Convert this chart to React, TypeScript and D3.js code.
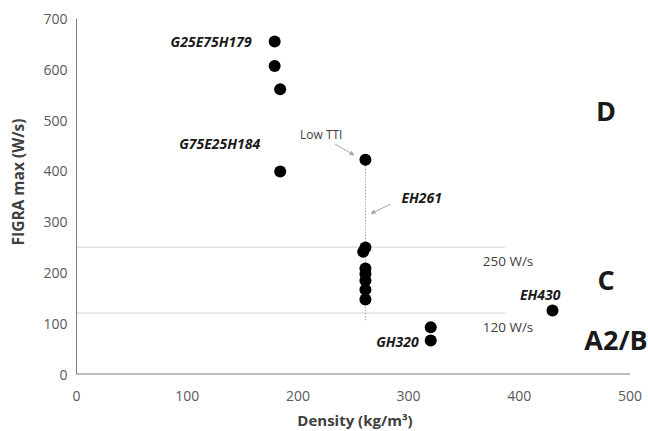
import React from "react";
import * as d3 from "d3";

// Measured samples: bulk density vs. peak FIGRA
const densities = [179, 179, 184, 184, 261, 261, 259, 261, 261, 261, 261, 261, 320, 320, 430];
const figraMax = [655, 607, 561, 399, 422, 249, 241, 208, 197, 184, 166, 147, 92, 66, 125];

// Axis ticks
const xTicks = [0, 100, 200, 300, 400, 500];
const yTicks = [0, 100, 200, 300, 400, 500, 600, 700];

// Classification thresholds (W/s) and their labels
const thresholds = [250, 120];
const thresholdLabels = ["250 W/s", "120 W/s"];

// Sample names and the point each one belongs to
const sampleNames = ["G25E75H179", "G75E25H184", "EH261", "GH320", "EH430"];
const sampleIndex = [0, 3, 4, 13, 14];

// Fire classes, placed at these FIGRA levels
const classNames = ["D", "C", "A2/B"];
const classLevels = [520, 187, 67];

const W = 648;
const H = 431;
const FONT = "'Open Sans', 'DejaVu Sans', sans-serif";

export default function App() {
  const x = d3.scaleLinear().domain([0, 500]).range([76.5, 630]);
  const y = d3.scaleLinear().domain([0, 700]).range([374, 18.7]);

  const tickColor = "#595959";
  const lineEnd = x(387);

  // label offsets (px) relative to their point
  const nameOffsets: [number, string, number, number][] = [
    [0, "end", -23, 0],
    [1, "end", -20, -28],
    [2, "start", 36, 38],
    [3, "end", -12, 1],
    [4, "end", 8, -16],
  ];

  const eh = sampleIndex[2];
  const ehX = x(densities[eh]);

  return (
    <svg
      width={W}
      height={H}
      style={{ position: "absolute", left: 0, top: 0, background: "#fff" }}
      fontFamily={FONT}
    >
      <defs>
        <marker id="arrowHead" viewBox="0 0 10 10" refX="9" refY="5" markerWidth="5" markerHeight="5" orient="auto">
          <path d="M0,0 L10,5 L0,10 z" fill="#a6a6a6" />
        </marker>
      </defs>

      {/* threshold lines */}
      {thresholds.map((t, i) => (
        <g key={t}>
          <line x1={x(0)} x2={lineEnd} y1={y(t)} y2={y(t)} stroke="#d0d0d0" strokeWidth={1} />
          <text
            x={x(367)}
            y={y(t) + 14}
            fontSize={13.5}
            fill="#404040"
            dominantBaseline="central"
          >
            {thresholdLabels[i]}
          </text>
        </g>
      ))}

      {/* dotted guide below the EH261 series */}
      <line
        x1={ehX}
        x2={ehX}
        y1={y(figraMax[eh])}
        y2={y(106)}
        stroke="#a6a6a6"
        strokeWidth={1}
        strokeDasharray="1.5,1.5"
      />

      {/* axes */}
      <line x1={x(0)} x2={x(0)} y1={y(0)} y2={y(700)} stroke="#7f7f7f" strokeWidth={1} />
      <line x1={x(0)} x2={x(500)} y1={y(0)} y2={y(0)} stroke="#7f7f7f" strokeWidth={1} />

      {yTicks.map((t) => (
        <text key={t} x={x(0) - 9} y={y(t)} fontSize={14} fill={tickColor} textAnchor="end" dominantBaseline="central">
          {t}
        </text>
      ))}
      {xTicks.map((t) => (
        <text key={t} x={x(t)} y={395} fontSize={14} fill={tickColor} textAnchor="middle" dominantBaseline="central">
          {t}
        </text>
      ))}

      <text
        transform={`translate(18,182) rotate(-90)`}
        fontSize={15.5}
        fontWeight="bold"
        fill="#404040"
        textAnchor="middle"
        dominantBaseline="central"
      >
        FIGRA max (W/s)
      </text>
      <text x={355} y={420} fontSize={15} fontWeight="bold" fill="#404040" textAnchor="middle" dominantBaseline="central">
        Density (kg/m³)
      </text>

      {/* points */}
      {densities.map((d, i) => (
        <circle key={i} cx={x(d)} cy={y(figraMax[i])} r={6} fill="#000" />
      ))}

      {/* sample names */}
      {nameOffsets.map(([k, anchor, dx, dy]) => {
        const idx = sampleIndex[k];
        return (
          <text
            key={k}
            x={x(densities[idx]) + dx}
            y={y(figraMax[idx]) + dy}
            fontSize={14}
            fontWeight="bold"
            fontStyle="italic"
            fill="#1a1a1a"
            textAnchor={anchor}
            dominantBaseline="central"
          >
            {sampleNames[k]}
          </text>
        );
      })}

      {/* annotations */}
      <text x={300} y={134} fontSize={12} fill="#404040" dominantBaseline="central">
        Low TTI
      </text>
      <line x1={335} y1={144} x2={354} y2={155} stroke="#a6a6a6" strokeWidth={1} markerEnd="url(#arrowHead)" />
      <line x1={391} y1={204} x2={371} y2={213.5} stroke="#a6a6a6" strokeWidth={1} markerEnd="url(#arrowHead)" />

      {/* class labels */}
      {classNames.map((c, i) => (
        <text
          key={c}
          x={c === "A2/B" ? 616 : 606}
          y={y(classLevels[i])}
          fontSize={27}
          fontWeight="bold"
          fill="#1a1a1a"
          textAnchor="middle"
          dominantBaseline="central"
        >
          {c}
        </text>
      ))}
    </svg>
  );
}
